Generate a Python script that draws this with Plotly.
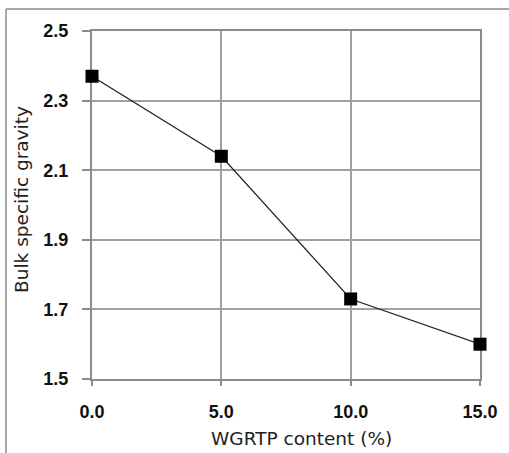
import plotly.graph_objects as go

wgrtp = [0, 5, 10, 15]
bsg = [2.37, 2.14, 1.73, 1.60]
x_ticks = [0, 5, 10, 15]
x_tick_labels = ["0.0", "5.0", "10.0", "15.0"]
y_ticks = [1.5, 1.7, 1.9, 2.1, 2.3, 2.5]
x_title = "WGRTP content (%)"
y_title = "Bulk specific gravity"

fig = go.Figure()
fig.add_trace(go.Scatter(
    x=wgrtp, y=bsg, mode="lines+markers",
    line=dict(color="#222222", width=1.2),
    marker=dict(symbol="square", size=13, color="black"),
    showlegend=False, cliponaxis=False, hoverinfo="skip",
))

L, R, T, B = 92, 29, 31, 74
W, H = 509, 453
pw, ph = W - L - R, H - T - B

tickfont = dict(family="Liberation Sans", size=18, color="#111111", weight="bold")
titlefont = dict(family="DejaVu Sans", size=18.5, color="#222222")

fig.update_layout(
    width=W, height=H,
    margin=dict(l=L, r=R, t=T, b=B, autoexpand=False),
    paper_bgcolor="white", plot_bgcolor="white",
    xaxis=dict(
        range=[0, 15], tickvals=x_ticks, ticktext=x_tick_labels,
        showgrid=True, gridcolor="#a0a0a0", gridwidth=1.5,
        zeroline=False, showline=True, linecolor="#8c8c8c", linewidth=2,
        mirror=True, layer="below traces",
        ticks="outside", ticklen=5, tickcolor="#8c8c8c", tickwidth=2,
        ticklabelstandoff=10,
        tickfont=tickfont,
    ),
    yaxis=dict(
        range=[1.5, 2.5], tickvals=y_ticks, tickformat=".1f",
        showgrid=True, gridcolor="#a0a0a0", gridwidth=1.5,
        zeroline=False, showline=True, linecolor="#8c8c8c", linewidth=2,
        mirror=True, layer="below traces",
        ticks="outside", ticklen=8, tickcolor="#8c8c8c", tickwidth=1.5,
        ticklabelstandoff=10,
        tickfont=tickfont,
    ),
    annotations=[
        dict(text=x_title, xref="paper", yref="paper", showarrow=False,
             x=(301 - L) / pw, y=-(438 - (H - B)) / ph,
             xanchor="center", yanchor="middle", font=titlefont),
        dict(text=y_title, xref="paper", yref="paper", showarrow=False,
             x=(21 - L) / pw, y=((H - B) - 200) / ph, textangle=-90,
             xanchor="center", yanchor="middle", font=titlefont),
    ],
    shapes=[
        dict(type="line", xref="paper", yref="paper", layer="below",
             x0=(6 - L) / pw, x1=(6 - L) / pw, y0=-B / ph, y1=(H - B - 9) / ph,
             line=dict(color="#a8a8a8", width=2)),
        dict(type="line", xref="paper", yref="paper", layer="below",
             x0=(6 - L) / pw, x1=(W - L) / pw, y0=(H - B - 9) / ph, y1=(H - B - 9) / ph,
             line=dict(color="#a8a8a8", width=2)),
    ],
)

fig.write_html("out.html", config={"displayModeBar": False},
               post_script="document.body.style.margin='0';")
